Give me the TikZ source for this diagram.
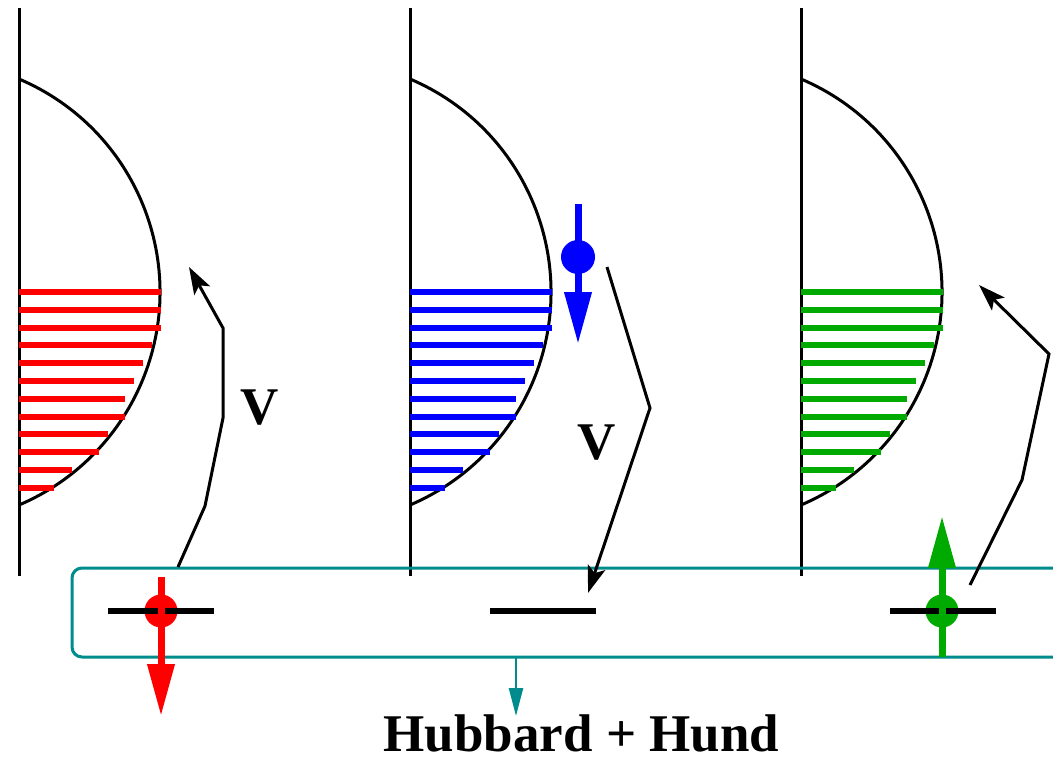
\documentclass[tikz,border=0pt]{standalone}
\usepackage{fontspec}
\setmainfont{Liberation Serif}
\usetikzlibrary{arrows.meta}
\definecolor{boxteal}{RGB}{0,140,140}
\definecolor{dgreen}{RGB}{0,170,0}
\begin{document}
\begin{tikzpicture}[x=1pt,y=-1pt,
  axis/.style={line width=3pt},
  dos/.style={line width=3pt},
  fillbar/.style={line width=6pt},
  level/.style={line width=6pt,black},
  hop/.style={line width=3pt,-{Stealth[length=27pt,width=18pt,inset=6pt]}},
  spin/.style={line width=7pt,-{Triangle[length=52pt,width=26pt]}},
  dot/.style={circle,inner sep=0pt,minimum size=33pt},
  lbl/.style={font=\bfseries\fontsize{53}{60}\selectfont,inner sep=0pt}]
\useasboundingbox (0,0) rectangle (1053,760);
\foreach \ox/\col in {0/red,391/blue,782/dgreen}{
  \draw[axis] (19+\ox,8) -- (19+\ox,576);
  \draw[dos] (19+\ox,79) arc[start angle=-67,end angle=67,radius=231.4];
  \foreach \i/\len in {0/142,1/142,2/142,3/133,4/124,5/115,6/106,7/106,8/89,9/80,10/53,11/35}{
    \draw[fillbar,\col] (19+\ox,292+17.8*\i) -- ++(\len,0);
  }
}
% Hubbard + Hund box
\node[draw=boxteal,line width=3pt,rounded corners=10pt,minimum width=998pt,minimum height=89pt,inner sep=0pt] (box) at (571,612.5) {};
\node[lbl,anchor=base] (title) at (581.5,751) {Hubbard + Hund};
\coordinate (boxout) at (516,657);
\coordinate (titletop) at (516,716);
\draw[boxteal,line width=2.5pt,-{Triangle[length=28pt,width=14pt]}] (boxout) -- (titletop);
% electrons and levels
\node[dot,fill=red] (e1) at (161,611) {};
\draw[level] (108,611) -- (214,611);
\coordinate (e1a) at (161,577); \coordinate (e1b) at (161,716);
\draw[spin,red] (e1a) -- (e1b);
\node[dot,fill=blue,minimum size=34pt] (e2) at (578,257) {};
\coordinate (e2a) at (578,204); \coordinate (e2b) at (578,344);
\draw[spin,blue] (e2a) -- (e2b);
\draw[level] (490,611) -- (596,611);
\node[dot,fill=dgreen] (e3) at (942,611) {};
\draw[level] (890,611) -- (996,611);
\coordinate (e3a) at (942,657); \coordinate (e3b) at (942,516);
\draw[spin,dgreen] (e3a) -- (e3b);
% hopping arrows
\draw[hop] (178,567) -- (205,506) -- (223,418) -- (223,328) -- (189,267);
\draw[hop] (607,267) -- (650,408) -- (588,593);
\draw[hop] (970,585) -- (1022,480) -- (1049,354) -- (979,285);
\node[lbl] (v1) at (260,408) {V};
\node[lbl] (v2) at (597,443) {V};
\end{tikzpicture}
\end{document}
